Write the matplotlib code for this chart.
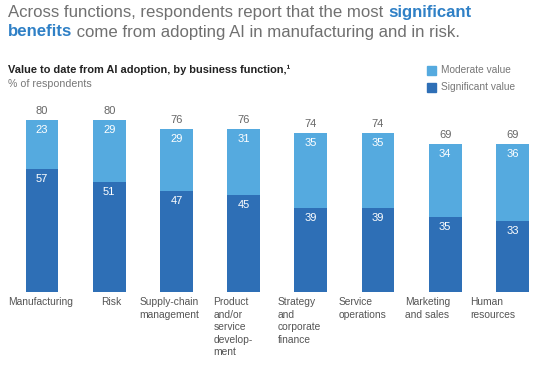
import numpy as np, matplotlib
matplotlib.use('Agg')
matplotlib.rcParams['font.family']=['Liberation Sans','DejaVu Sans']
import matplotlib.pyplot as plt

functions=['Manufacturing','Risk','Supply-chain\nmanagement','Product\nand/or\nservice\ndevelop-\nment',
           'Strategy\nand\ncorporate\nfinance','Service\noperations','Marketing\nand sales','Human\nresources']
significant=[57,51,47,45,39,39,35,33]
moderate=[23,29,29,31,35,35,34,36]
totals=[80,80,76,76,74,74,69,69]
# label left edge offset from bar centre, in px
label_off=[-34,-8,-37,-30,-33,-39,-40,-42]

c_mod='#55AADF'; c_sig='#2E6FB6'
W,H=543,365
fig=plt.figure(figsize=(W/100,H/100),dpi=100)
# axes placed in pixels: bar centre 0 at x=42px, 67.2px per bar; baseline at y=292px, 2.15px per %
ppu_x=67.2; ppu_y=2.15
ax=fig.add_axes([0,(H-292)/H,1,(292-105)/H])
ax.set_xlim(-42/ppu_x,(W-42)/ppu_x)
ax.set_ylim(0,(292-105)/ppu_y)
ax.axis('off')

x=np.arange(len(functions))
ax.bar(x,significant,width=0.49,color=c_sig)
ax.bar(x,moderate,width=0.49,bottom=significant,color=c_mod)
for i in x:
    ax.annotate(str(totals[i]),(i,totals[i]),xytext=(0,9),textcoords='offset pixels',
                ha='center',va='center',fontsize=8,color='#666666')
    ax.annotate(str(moderate[i]),(i,totals[i]),xytext=(0,-10),textcoords='offset pixels',
                ha='center',va='center',fontsize=8,color='white')
    ax.annotate(str(significant[i]),(i,significant[i]),xytext=(0,-10),textcoords='offset pixels',
                ha='center',va='center',fontsize=8,color='white')
    ax.annotate(functions[i],(i,0),xytext=(label_off[i],-5),textcoords='offset pixels',
                ha='left',va='top',fontsize=7.4,color='#555555',linespacing=1.32,annotation_clip=False)

# title with highlighted words
fig.canvas.draw()
r=fig.canvas.get_renderer()
t1=fig.text(8/W,1-13/H,'Across functions, respondents report that the most ',fontsize=12.1,color='#707070',va='center')
e=t1.get_window_extent(r)
fig.text(e.x1/W,1-13/H,'significant',fontsize=12.1,color='#2F80C6',fontweight='bold',va='center')
t2=fig.text(8/W,1-32/H,'benefits',fontsize=12.1,color='#2F80C6',fontweight='bold',va='center')
e=t2.get_window_extent(r)
fig.text(e.x1/W,1-32/H,' come from adopting AI in manufacturing and in risk.',fontsize=12.1,color='#707070',va='center')

fig.text(8/W,1-70/H,'Value to date from AI adoption, by business function,\u00b9',fontsize=7.9,
         fontweight='bold',color='#222222',va='center')
fig.text(8/W,1-84/H,'% of respondents',fontsize=7.7,color='#777777',va='center')

# legend
for yy,col,lab in [(70,c_mod,'Moderate value'),(87,c_sig,'Significant value')]:
    fig.patches.append(plt.Rectangle((427/W,1-(yy+4.5)/H),9/W,9/H,transform=fig.transFigure,color=col))
    fig.text(441/W,1-yy/H,lab,fontsize=7.3,color='#777777',va='center')

fig.savefig('out.png',dpi=100)
